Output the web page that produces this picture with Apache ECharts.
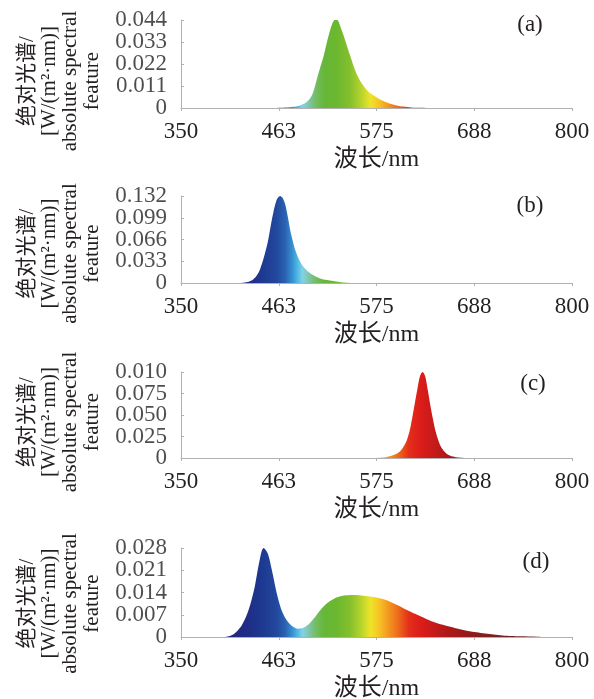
<!DOCTYPE html>
<html><head><meta charset="utf-8">
<script src="https://cdn.jsdelivr.net/npm/echarts@6/dist/echarts.min.js"></script>
<style>html,body{margin:0;padding:0;background:#fff}#c{width:594px;height:699px}</style>
</head><body><div id="c"></div><script>
// ---- data ----
const wlA  = [350,460,470,480,487,493,498,502,506,510,514,518,522,525,528,531,534,537,541,545,549,553,557,561,566,571,577,583,590,598,606,615,625,640,800];
const valA = [0,0,0.0002,0.0006,0.0013,0.0025,0.0045,0.0078,0.0139,0.020,0.0258,0.033,0.0395,0.043,0.0445,0.0435,0.040,0.0365,0.031,0.0258,0.0205,0.0162,0.0130,0.0105,0.0080,0.0065,0.0048,0.0035,0.0022,0.0013,0.0007,0.0003,0.0001,0,0];

const wlB  = [350,415,422,428,433,437,441,445,450,455,460,464,467,470,473,476,479,482,485,489,494,499,505,510,518,525,532,540,550,800];
const valB = [0,0,0.0005,0.002,0.0055,0.011,0.021,0.037,0.063,0.099,0.126,0.132,0.129,0.119,0.100,0.078,0.062,0.048,0.038,0.028,0.020,0.0145,0.010,0.007,0.0045,0.003,0.0015,0.0005,0,0];

const wlC  = [350,570,578,585,590,596,602,606,610,613,616,619,622,625,628,631,634,637,640,643,646,650,655,660,666,672,680,800];
const valC = [0,0,0.0003,0.001,0.002,0.0042,0.0077,0.013,0.021,0.031,0.046,0.063,0.080,0.095,0.100,0.095,0.079,0.061,0.045,0.031,0.021,0.0116,0.0055,0.0025,0.001,0.0003,0,0];

const wlD  = [350,400,405,410,415,420,425,430,435,440,445,450,455,460,465,470,475,480,485,490,495,500,505,510,515,520,525,530,540,550,560,570,580,590,600,610,620,630,640,650,660,670,680,690,700,710,720,730,740,760,770,800];
const valD = [0,0,0.0002,0.0008,0.002,0.0037,0.0065,0.0105,0.016,0.0235,0.028,0.0262,0.0205,0.0140,0.0090,0.0060,0.0042,0.0031,0.0026,0.0028,0.0036,0.0049,0.0065,0.0083,0.0098,0.0110,0.0119,0.0125,0.0131,0.0132,0.0130,0.0127,0.0121,0.0112,0.0099,0.0085,0.0072,0.0060,0.0048,0.0039,0.0032,0.0025,0.0019,0.0015,0.0011,0.0008,0.0005,0.0003,0.0002,0.0001,0,0];

const xMin = 350, xMax = 800, xInterval = 112.5;
const xTickLabels = ['350','463','575','688','800'];
const yMaxes = [0.044, 0.132, 0.1, 0.028];
const yTickLabels = [
  ['0','0.011','0.022','0.033','0.044'],
  ['0','0.033','0.066','0.099','0.132'],
  ['0','0.025','0.050','0.075','0.010'],
  ['0','0.007','0.014','0.021','0.028']
];
const panelLabels = ['(a)','(b)','(c)','(d)'];
const yAxisName = '绝对光谱/\n[W/(m²·nm)]\nabsolute spectral\nfeature';
const xAxisName = '波长/nm';

// spectral colour stops (wavelength, colour) – styling only
const specStops = [
  [350,'#2a1b70'],[410,'#22267e'],[430,'#1f2f88'],[445,'#1e3a92'],[460,'#22489c'],
  [470,'#2a62b0'],[478,'#3590d0'],[485,'#55bde6'],[490,'#86d2e6'],[497,'#7fc6a8'],
  [505,'#74bd62'],[515,'#66b638'],[530,'#6cb82f'],[545,'#86c02c'],[558,'#b9d42c'],
  [568,'#eee428'],[578,'#f6c426'],[588,'#f39a20'],[600,'#ee6a1c'],[612,'#e4301a'],
  [625,'#dc1c1a'],[640,'#c81a1a'],[660,'#aa1818'],[690,'#8a1c1c'],[730,'#6f2222'],[800,'#5c2a2a']
];
function hex2rgb(h){return [parseInt(h.substr(1,2),16),parseInt(h.substr(3,2),16),parseInt(h.substr(5,2),16)];}
function colorAt(w){
  for(let i=0;i<specStops.length-1;i++){
    const a=specStops[i], b=specStops[i+1];
    if(w>=a[0] && w<=b[0]){
      const t=(w-a[0])/(b[0]-a[0]); const ca=hex2rgb(a[1]), cb=hex2rgb(b[1]);
      return 'rgb('+ca.map((v,k)=>Math.round(v+(cb[k]-v)*t)).join(',')+')';
    }
  }
  return specStops[specStops.length-1][1];
}
const specColors=[]; for(let w=350; w<=800; w+=2) specColors.push(colorAt(w));

// ---- layout ----
const font = "'Liberation Serif','Times New Roman','Noto Sans CJK SC',serif";
const txt = '#231f20';
const tops = [20,196,372,548];
const heights = [88,87,86,89];
const namePad = [34,28,14,22];
const labelPos = [[530,25],[530,206],[533,384],[536,562]];
const series = [[wlA,valA],[wlB,valB],[wlC,valC],[wlD,valD]];

const lineSeries = series.map((s,i)=>({
  type:'line', xAxisIndex:i, yAxisIndex:i, showSymbol:false, symbol:'none', smooth:0.3,
  data:s[0].map((w,k)=>[w,s[1][k]]),
  lineStyle:{width:0, opacity:0},
  areaStyle:{opacity:1}
}));
// y tick labels placed through the axis scales (value axis auto-hides crowded labels)
const tickLabelSeries = yTickLabels.map((labs,i)=>({
  type:'scatter', xAxisIndex:i, yAxisIndex:i, symbolSize:0, silent:true, clip:false,
  data:labs.map((t,k)=>({value:[xMin, k*yMaxes[i]/4], name:t})),
  label:{show:true, position:'left', distance:14, formatter:(p)=>p.name,
    fontFamily:font, fontSize:23, color:txt},
  labelLayout:{hideOverlap:false}
}));

const option = {
  animation:false,
  backgroundColor:'#fff',
  grid: tops.map((t,i)=>({left:181, width:391, top:t, height:heights[i], containLabel:false, outerBoundsMode:'none'})),
  xAxis: tops.map((t,i)=>({
    type:'value', gridIndex:i, min:xMin, max:xMax, interval:xInterval,
    name:xAxisName, nameLocation:'middle', nameGap:40,
    nameTextStyle:{fontFamily:font, fontSize:24, color:txt},
    axisLine:{show:true, lineStyle:{color:'#b5b0b0', width:1}},
    axisTick:{show:true, inside:false, length:3, lineStyle:{color:'#b5b0b0'}},
    splitLine:{show:false},
    axisLabel:{fontFamily:font, fontSize:23, color:txt, margin:12, showMinLabel:true, showMaxLabel:true,
      formatter:(v)=>{const k=Math.round((v-xMin)/xInterval); return xTickLabels[k]!==undefined?xTickLabels[k]:'';}}
  })),
  yAxis: tops.map((t,i)=>({
    type:'value', gridIndex:i, min:0, max:yMaxes[i], interval:yMaxes[i]/4,
    name:yAxisName, nameLocation:'middle', nameRotate:90, nameGap:78,
    nameTextStyle:{fontFamily:font, fontSize:21, lineHeight:21.5, color:txt, align:'center', padding:[0,namePad[i],0,0]},
    axisLine:{show:true, lineStyle:{color:'#b5b0b0', width:1}},
    axisTick:{show:true, inside:true, length:3, lineStyle:{color:'#b5b0b0'}},
    splitLine:{show:false},
    axisLabel:{show:false}
  })),
  visualMap:{type:'continuous', show:false, dimension:0, seriesIndex:[0,1,2,3], min:350, max:800,
    inRange:{color:specColors}},
  series: lineSeries.concat(tickLabelSeries),
  graphic: panelLabels.map((t,i)=>({type:'text', x:labelPos[i][0], y:labelPos[i][1],
    style:{text:t, fontFamily:font, fontSize:23, fill:txt, textAlign:'center', textVerticalAlign:'middle'}}))
};
const chart = echarts.init(document.getElementById('c'), null, {renderer:'canvas'});
chart.setOption(option);
</script></body></html>
